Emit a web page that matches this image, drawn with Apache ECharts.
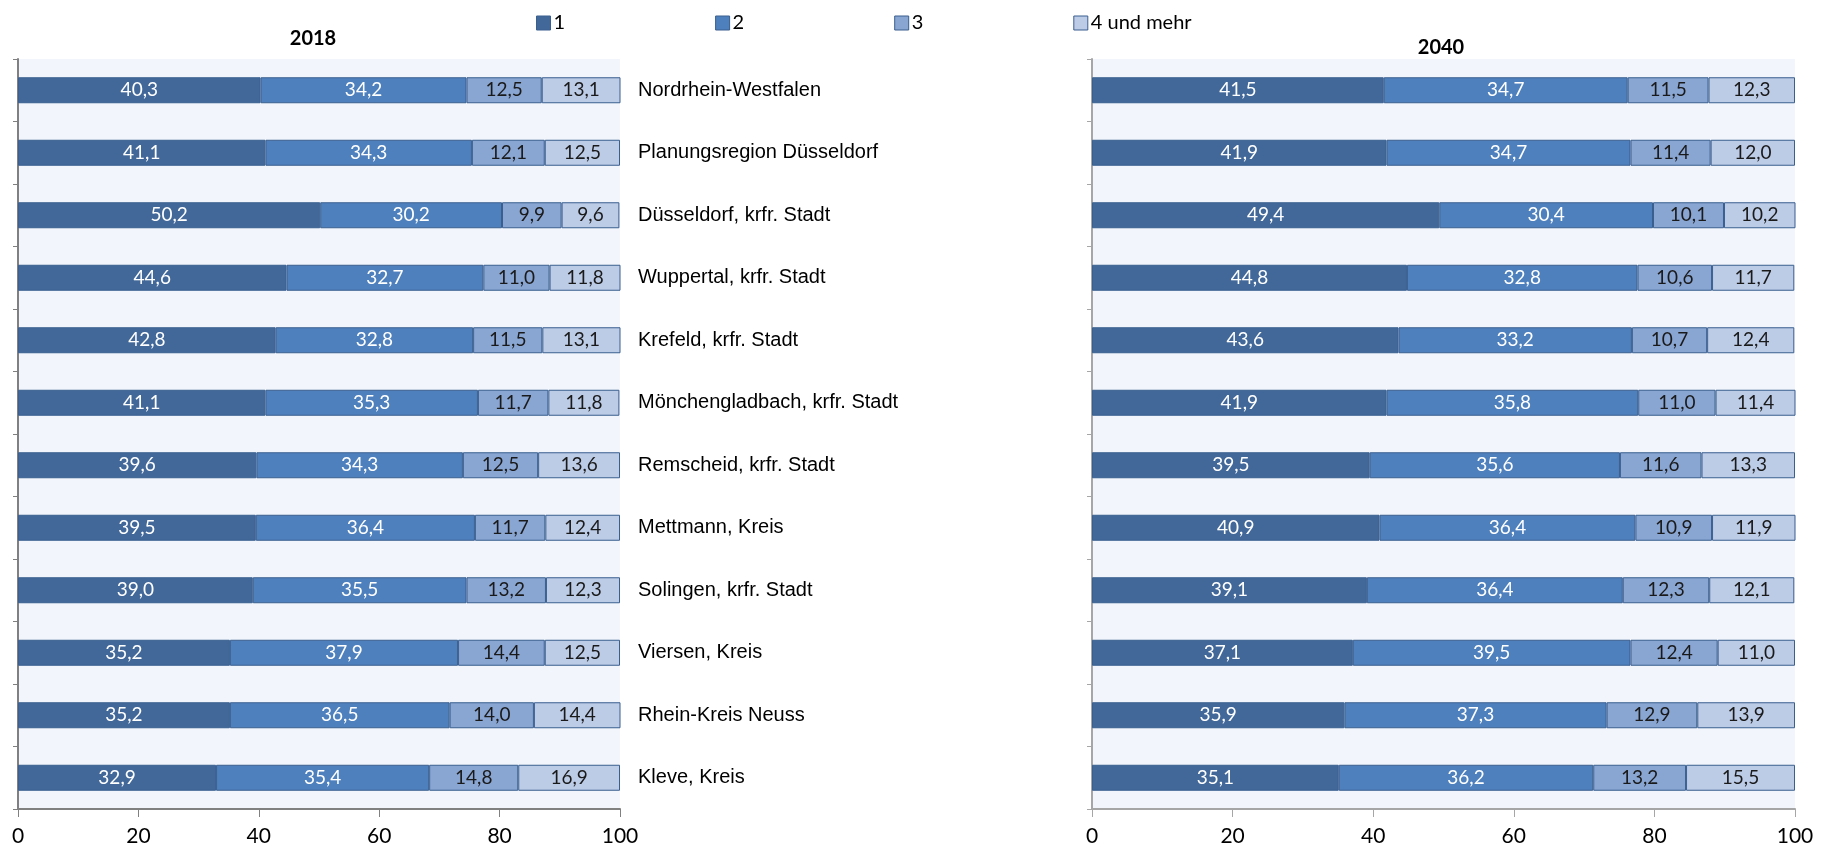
<!DOCTYPE html>
<html lang="de">
<head>
    <meta charset="UTF-8">
    <title>Haushalte nach Größe 2018 und 2040</title>
    <style type="text/css">
        html, body { margin: 0; padding: 0; background: #fff; }
        #chart { width: 1843px; height: 850px; }
    </style>
</head>
<body>
<div id="chart"></div>
<script src="https://cdn.jsdelivr.net/npm/echarts@6/dist/echarts.min.js"></script>
<script>
    // Regionen (von oben nach unten)
    var regions = ['Nordrhein-Westfalen', 'Planungsregion Düsseldorf', 'Düsseldorf, krfr. Stadt',
        'Wuppertal, krfr. Stadt', 'Krefeld, krfr. Stadt', 'Mönchengladbach, krfr. Stadt',
        'Remscheid, krfr. Stadt', 'Mettmann, Kreis', 'Solingen, krfr. Stadt', 'Viersen, Kreis',
        'Rhein-Kreis Neuss', 'Kleve, Kreis'];
    var groups = ['1', '2', '3', '4 und mehr'];
    var xTicks = [0, 20, 40, 60, 80, 100];

    // 2018
    var p1_2018 = [40.3, 41.1, 50.2, 44.6, 42.8, 41.1, 39.6, 39.5, 39.0, 35.2, 35.2, 32.9];
    var p2_2018 = [34.2, 34.3, 30.2, 32.7, 32.8, 35.3, 34.3, 36.4, 35.5, 37.9, 36.5, 35.4];
    var p3_2018 = [12.5, 12.1, 9.9, 11.0, 11.5, 11.7, 12.5, 11.7, 13.2, 14.4, 14.0, 14.8];
    var p4_2018 = [13.1, 12.5, 9.6, 11.8, 13.1, 11.8, 13.6, 12.4, 12.3, 12.5, 14.4, 16.9];

    // 2040
    var p1_2040 = [41.5, 41.9, 49.4, 44.8, 43.6, 41.9, 39.5, 40.9, 39.1, 37.1, 35.9, 35.1];
    var p2_2040 = [34.7, 34.7, 30.4, 32.8, 33.2, 35.8, 35.6, 36.4, 36.4, 39.5, 37.3, 36.2];
    var p3_2040 = [11.5, 11.4, 10.1, 10.6, 10.7, 11.0, 11.6, 10.9, 12.3, 12.4, 12.9, 13.2];
    var p4_2040 = [12.3, 12.0, 10.2, 11.7, 12.4, 11.4, 13.3, 11.9, 12.1, 11.0, 13.9, 15.5];

    var colors = ['#42689a', '#4f80be', '#89a5d2', '#bccbe6'];
    var labelColors = ['#ffffff', '#ffffff', '#1a1a1a', '#1a1a1a'];
    var numFont = 'Lato, "Open Sans", sans-serif';

    function fmt(p) {
        return p.value.toFixed(1).replace('.', ',');
    }

    function makeSeries(data, idx) {
        var out = [];
        for (var i = 0; i < data.length; i++) {
            out.push({
                name: groups[i],
                type: 'bar',
                stack: 's' + idx,
                xAxisIndex: idx,
                yAxisIndex: idx * 2,
                barWidth: 26,
                data: data[i],
                itemStyle: { color: colors[i], borderColor: '#3a5f8f', borderWidth: 1 },
                label: {
                    show: true,
                    position: 'inside',
                    formatter: fmt,
                    color: labelColors[i],
                    fontFamily: numFont,
                    fontSize: 19
                }
            });
        }
        return out;
    }

    function xAxis(gridIndex, lineColor) {
        return {
            type: 'value', gridIndex: gridIndex, min: 0, max: 100, interval: 20,
            splitLine: { show: false },
            axisLine: { show: true, lineStyle: { color: lineColor, width: 2 } },
            axisTick: { show: true, length: 8, lineStyle: { color: lineColor } },
            axisLabel: {
                color: '#000', fontFamily: numFont, fontSize: 21, margin: 17,
                formatter: function (v) { return xTicks.indexOf(v) >= 0 ? String(v) : ''; }
            }
        };
    }

    function yAxisLeft(gridIndex, lineColor) {
        return {
            type: 'category', gridIndex: gridIndex, data: regions, inverse: true,
            axisLine: { show: true, lineStyle: { color: lineColor, width: 2 } },
            axisTick: { show: true, length: 5, lineStyle: { color: lineColor } },
            axisLabel: { show: false }
        };
    }

    var chart = echarts.init(document.getElementById('chart'));
    var option = {
        backgroundColor: '#ffffff',
        animation: false,
        title: [
            { text: '2018', left: 308, top: 24, textAlign: 'center',
              textStyle: { fontFamily: numFont, fontSize: 20, fontWeight: 'bold', color: '#000' } },
            { text: '2040', left: 1436, top: 33, textAlign: 'center',
              textStyle: { fontFamily: numFont, fontSize: 20, fontWeight: 'bold', color: '#000' } }
        ],
        legend: {
            data: groups,
            left: 531, top: 8,
            itemWidth: 14, itemHeight: 14, itemGap: 150,
            icon: 'rect',
            itemStyle: { borderColor: '#3a5f8f', borderWidth: 1 },
            textStyle: { fontFamily: numFont, fontSize: 20, color: '#000', padding: [0, 0, 0, -2] }
        },
        grid: [
            { left: 18, right: 1223, top: 59, bottom: 41, show: true,
              backgroundColor: '#f2f6fc', borderWidth: 0 },
            { left: 1092, right: 48, top: 59, bottom: 41, show: true,
              backgroundColor: '#f2f6fc', borderWidth: 0 }
        ],
        xAxis: [xAxis(0, '#808080'), xAxis(1, '#a6a6a6')],
        yAxis: [
            yAxisLeft(0, '#808080'),
            {
                type: 'category', gridIndex: 0, data: regions, inverse: true, position: 'right',
                axisLine: { show: false }, axisTick: { show: false },
                axisLabel: {
                    show: true, align: 'left', margin: 18, color: '#000',
                    fontFamily: '"Liberation Sans", Arial, sans-serif', fontSize: 20
                }
            },
            yAxisLeft(1, '#a6a6a6')
        ],
        series: makeSeries([p1_2018, p2_2018, p3_2018, p4_2018], 0)
            .concat(makeSeries([p1_2040, p2_2040, p3_2040, p4_2040], 1))
    };
    chart.setOption(option);
</script>
</body>
</html>
